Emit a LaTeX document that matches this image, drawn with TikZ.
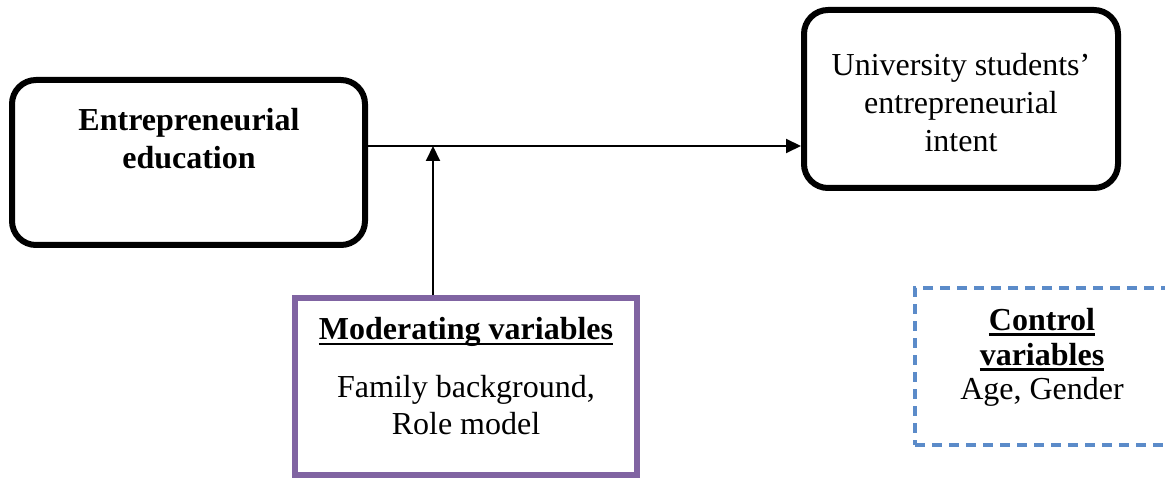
\documentclass[tikz,border=0pt]{standalone}
\usepackage{fontspec}
\setmainfont{Liberation Serif}
\usetikzlibrary{arrows.meta}
\definecolor{modpurple}{HTML}{8064A2}
\definecolor{ctrlblue}{HTML}{5B8BC9}
\newcommand{\myul}[1]{\setbox0=\hbox{#1}\rlap{\rule[-5.5pt]{\wd0}{2.4pt}}\box0}
\tikzset{
  rbox/.style={draw=black, line width=6pt, rounded corners=24pt, minimum width=#1},
  modbox/.style={draw=modpurple, line width=6pt},
  ctrlbox/.style={draw=ctrlblue, line width=3.2pt, dash pattern=on 10pt off 7pt},
  txt/.style={font=\fontsize{32}{38}\selectfont, align=center, inner sep=0pt},
  conn/.style={line width=2pt, -{Triangle[length=15pt,width=14pt]}}
}
\begin{document}
\begin{tikzpicture}[x=1pt,y=-1pt]
\clip (0,0) rectangle (1165,481);
\fill[white] (0,0) rectangle (1165,481);
% boxes
\node[rbox=353pt, minimum height=165pt] (lb) at (188.5,162.5) {};
\node[rbox=314pt, minimum height=178pt] (rb) at (961,99) {};
\node[modbox, minimum width=342pt, minimum height=177pt] (mb) at (466,386.5) {};
\node[ctrlbox, minimum width=262pt, minimum height=157pt] (cb) at (1046,366.5) {};
% texts
\node[txt, font=\fontsize{32}{38}\selectfont\bfseries] (lbt) at (189,139) {Entrepreneurial\\education};
\node[txt] (rbt) at (961,102.5) {University students'\\entrepreneurial\\intent};
\node[txt, font=\fontsize{32}{38}\selectfont\bfseries] (mbh) at (466,332) {\myul{Moderating variables}};
\node[txt, font=\fontsize{32}{37}\selectfont] (mbt) at (466,405) {Family background,\\Role model};
\node[txt, font=\fontsize{32}{35}\selectfont\bfseries] (cbh) at (1042,339.5) {\myul{Control}\\\myul{variables}};
\node[txt] (cbt) at (1042,392) {Age, Gender};
% connectors
\coordinate (j) at (433,146);
\draw[conn] (lb.east |- j) -- (rb.west |- j);
\draw[conn] (j |- mb.north) -- (j);
\end{tikzpicture}
\end{document}
